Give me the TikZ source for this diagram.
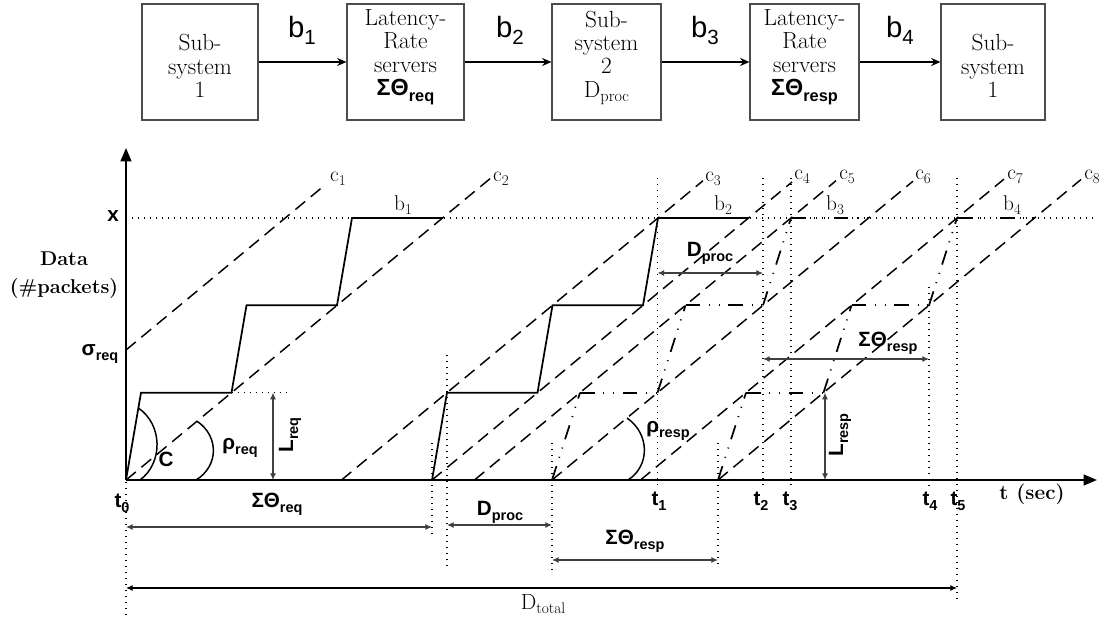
\documentclass[tikz,border=0pt]{standalone}
\usepackage{fontspec}
\usepackage{graphicx}
\usetikzlibrary{arrows.meta}
\newfontfamily\arialf{Liberation Sans}
\newcommand{\lo}[1]{\raisebox{-0.45ex}{\scalebox{0.7}{#1}}}
\begin{document}
\begin{tikzpicture}[x=0.75pt,y=-0.75pt,
  box/.style={draw=black!70,line width=0.8pt,minimum height=87pt,inner sep=0pt},
  boxtxt/.style={align=center,font=\fontsize{17.5}{17.5}\selectfont,inner sep=0pt},
  flow/.style={-{Stealth[length=7pt,width=6pt]},line width=1.3pt},
  blab/.style={font=\arialf\fontsize{22}{23}\selectfont,inner sep=0pt},
  cl/.style={dash pattern=on 9.5pt off 5.5pt,line width=1.1pt},
  dotl/.style={dash pattern=on 0.9pt off 3.6pt,line width=1.1pt},
  ddl/.style={dash pattern=on 11pt off 6.5pt on 0.8pt off 6.5pt on 0.8pt off 6.5pt,line width=1.3pt},
  stepc/.style={line width=1.3pt},
  dim/.style={{Latex[length=5pt,width=4.5pt]}-{Latex[length=5pt,width=4.5pt]},line width=0.8pt,draw=black!75},
  axisl/.style={line width=1.6pt,-{Triangle[length=10pt,width=8pt]}},
  lab/.style={font=\arialf\bfseries\fontsize{15.5}{16}\selectfont,inner sep=0pt},
  slab/.style={font=\fontsize{16}{17}\selectfont,inner sep=0pt},
]
\useasboundingbox (0,0) rectangle (1110,621);

% ---------- top row ----------
\node[box,minimum width=87pt]    (s1)  at (200,62)   {};
\node[box,minimum width=87.75pt] (lr1) at (405.5,62) {};
\node[box,minimum width=81.75pt] (s2)  at (606.5,62) {};
\node[box,minimum width=81.75pt] (lr2) at (804.5,62) {};
\node[box,minimum width=78pt]    (s3)  at (993,62)   {};

\node[boxtxt] (s1t)  at (200,66)   {Sub-\\system\\1};
\node[boxtxt] (lr1t) at (405.5,57) {Latency-\\Rate\\servers\\{\arialf\bfseries ΣΘ\lo{req}}};
\node[boxtxt] (s2t)  at (606.5,58) {Sub-\\system\\2\\D\lo{proc}};
\node[boxtxt] (lr2t) at (804.5,57) {Latency-\\Rate\\servers\\{\arialf\bfseries ΣΘ\lo{resp}}};
\node[boxtxt] (s3t)  at (993,66)   {Sub-\\system\\1};

\draw[flow] (s1) -- (lr1);
\draw[flow] (lr1) -- (s2);
\draw[flow] (s2) -- (lr2);
\draw[flow] (lr2) -- (s3);

\node[blab] (tb1) at (302,30) {b\lo{1}};
\node[blab] (tb2) at (510,30) {b\lo{2}};
\node[blab] (tb3) at (705,30) {b\lo{3}};
\node[blab] (tb4) at (900,30) {b\lo{4}};

% ---------- chart ----------
\coordinate (O) at (126,480);

% arrival / service lines c1..c8
\draw[cl] (126,350) -- (325,185);
\draw[cl] (O) -- (490,178.7);
\draw[cl] (341.5,480) -- (703,180.7);
\draw[cl] (432,480) -- (792,182);
\draw[cl] (474.5,480) -- (836,180.7);
\draw[cl] (552,480) -- (913,181.2);
\draw[cl] (640.5,480) -- (1004,179.1);
\draw[cl] (718,480) -- (1081,179.5);

% dotted guides
\draw[dotl] (126,218) -- (1097,218);
\draw[dotl] (231.5,392.67) -- (287,392.67);
\draw[dotl] (126,482) -- (126,618);
\draw[dotl] (432,443) -- (432,537);
\draw[dotl] (447,355) -- (447,567);
\draw[dotl] (552,443) -- (552,573);
\draw[dotl] (657.5,178) -- (657.5,487);
\draw[dotl] (718,443) -- (718,567);
\draw[dotl] (763,178) -- (763,487);
\draw[dotl] (791,178) -- (791,487);
\draw[dotl] (929,287) -- (929,487);
\draw[dotl] (957,178) -- (957,603);

% b1, b2 staircases
\draw[stepc] (O) -- (141,392.67) -- (231.5,392.67) -- (246.5,305.33) -- (337,305.33) -- (352,218) -- (442.5,218);
\draw[stepc] (432,480) -- (447,392.67) -- (537.5,392.67) -- (552.5,305.33) -- (643,305.33) -- (658,218) -- (748.5,218);

% b3 staircase (dash-dot)
\draw[ddl] (552,480) -- (580,392.67);
\draw[ddl] (580,392.67) -- (657.5,392.67);
\draw[ddl] (657.5,392.67) -- (685.5,305.33);
\draw[ddl] (685.5,305.33) -- (763,305.33);
\draw[ddl] (763,305.33) -- (791,218);
\draw[ddl] (791,218) -- (868.5,218);
% b4 staircase (dash-dot)
\draw[ddl] (718,480) -- (746,392.67);
\draw[ddl] (746,392.67) -- (823.5,392.67);
\draw[ddl] (823.5,392.67) -- (851.5,305.33);
\draw[ddl] (851.5,305.33) -- (929,305.33);
\draw[ddl] (929,305.33) -- (957,218);
\draw[ddl] (957,218) -- (1034.5,218);

% angle marks
\draw[line width=1.1pt] (138.4,408) .. controls (163,425) and (163,463) .. (140,480);
\draw[line width=1.1pt] (197,421.2) .. controls (219,436) and (219,466) .. (196,480);
\draw[line width=1.1pt] (627,418) .. controls (650,434) and (650,466) .. (628,480);

% axes
\draw[axisl] (O) -- (126,148);
\draw[axisl] (O) -- (1097,480);

% dimension arrows
\coordinate (lrqa) at (273,392.67); \coordinate (lrqb) at (273,480);
\coordinate (lrsa) at (825,392.67); \coordinate (lrsb) at (825,480);
\coordinate (dpua) at (657.5,273); \coordinate (dpub) at (763,273);
\coordinate (srua) at (763,359);   \coordinate (srub) at (929,359);
\coordinate (sqa) at (126,527);    \coordinate (sqb) at (432,527);
\coordinate (dpla) at (447,525);   \coordinate (dplb) at (552,525);
\coordinate (srla) at (552,560);   \coordinate (srlb) at (718,560);
\coordinate (dta) at (126,588);    \coordinate (dtb) at (957,588);
\draw[dim] (lrqa) -- (lrqb);
\draw[dim] (lrsa) -- (lrsb);
\draw[dim] (dpua) -- (dpub);
\draw[dim] (srua) -- (srub);
\draw[dim] (sqa) -- (sqb);
\draw[dim] (dpla) -- (dplb);
\draw[dim] (srla) -- (srlb);
\draw[dim,draw=black] (dta) -- (dtb);

% labels
\node[font=\bfseries\fontsize{15}{21}\selectfont,align=center,inner sep=0pt] (ylab) at (64,275) {Data\\(\#packets)};
\node[lab] (xl) at (113,216) {x};
\node[lab] (sgl) at (100,354) {σ\lo{req}};
\node[lab] (cl) at (166,459) {C};
\node[lab] (rql) at (240,448) {ρ\lo{req}};
\node[lab,rotate=90] (lql) at (290,435) {L\lo{req}};
\node[lab] (rsl) at (668,431) {ρ\lo{resp}};
\node[lab,rotate=90] (lsl) at (840,435) {L\lo{resp}};
\node[lab] (dpu) at (710,253) {D\lo{proc}};
\node[lab] (sru) at (888,343) {ΣΘ\lo{resp}};
\node[lab] (sql) at (277,504) {ΣΘ\lo{req}};
\node[lab] (dpl) at (500,512) {D\lo{proc}};
\node[lab] (srl) at (635,541) {ΣΘ\lo{resp}};
\node[font=\fontsize{16.5}{17}\selectfont,inner sep=0pt] (dtl) at (543,604) {D\lo{total}};

\node[lab] (t0l) at (122,503) {t\lo{0}};
\node[lab] (t1l) at (659,501) {t\lo{1}};
\node[lab] (t2l) at (761,501) {t\lo{2}};
\node[lab] (t3l) at (790,501) {t\lo{3}};
\node[lab] (t4l) at (930,501) {t\lo{4}};
\node[lab] (t5l) at (958,501) {t\lo{5}};
\node[font=\bfseries\fontsize{15.5}{16}\selectfont,inner sep=0pt] (tsec) at (1032,494) {t\hspace{6pt}(sec)};

\node[slab] (c1l) at (338,179) {c\lo{1}};
\node[slab] (c2l) at (501,179) {c\lo{2}};
\node[slab] (c3l) at (713,179) {c\lo{3}};
\node[slab] (c4l) at (802,177) {c\lo{4}};
\node[slab] (c5l) at (847,177) {c\lo{5}};
\node[slab] (c6l) at (923,177) {c\lo{6}};
\node[slab] (c7l) at (1015,177) {c\lo{7}};
\node[slab] (c8l) at (1092,177) {c\lo{8}};

\node[slab] (b1l) at (403,205) {b\lo{1}};
\node[slab] (b2l) at (723,205) {b\lo{2}};
\node[slab] (b3l) at (835,205) {b\lo{3}};
\node[slab] (b4l) at (1012,205) {b\lo{4}};
\end{tikzpicture}
\end{document}
